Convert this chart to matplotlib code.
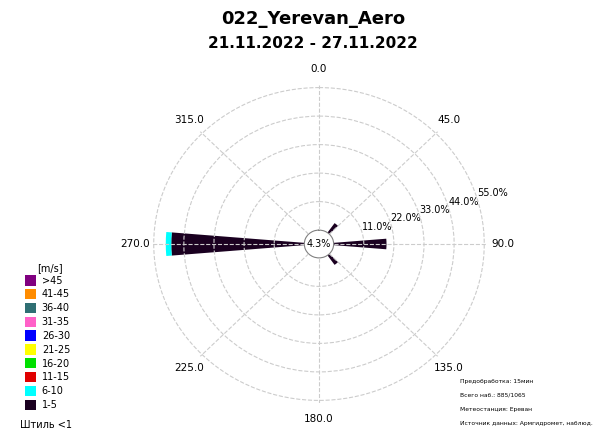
import numpy as np
import matplotlib
matplotlib.use("Agg")
import matplotlib.pyplot as plt
from matplotlib.patches import Patch

# データ
station = "022_Yerevan_Aero"
period = "21.11.2022 - 27.11.2022"
calm = 4.3  # 静穏 [%]
directions = [40, 90, 140, 270]  # 風向 [deg]
speed_1_5 = [4.5, 19.3, 4.5, 48.6]
speed_6_10 = [0.0, 0.0, 0.0, 2.0]
r_ticks = [11.0, 22.0, 33.0, 44.0, 55.0]
theta_ticks = [0, 45, 90, 135, 180, 225, 270, 315]

classes = [">45", "41-45", "36-40", "31-35", "26-30", "21-25", "16-20", "11-15", "6-10", "1-5"]
class_colors = ["#800080", "#FF8C00", "#2F6F73", "#FF60C8", "#0000FF",
                "#FFFF00", "#00E000", "#E00000", "#00FFFF", "#1A0020"]

info_lines = ["Предобработка: 15мин",
              "Всего наб.: 885/1065",
              "Метеостанция: Ереван",
              "Источник данных: Армгидромет, наблюд."]

fig = plt.figure(figsize=(6.03, 4.33), dpi=100)
ax = fig.add_axes([0.2504, 0.0693, 0.5572, 0.7344], projection="polar")
ax.set_aspect("auto")
ax.set_theta_zero_location("N")
ax.set_theta_direction(-1)
ax.set_rorigin(-5.36)
ax.set_ylim(0, 56)

# 棒（積み上げ）
theta = np.deg2rad(directions)
width = np.deg2rad(9.5)
ax.bar(theta, speed_1_5, width=width, bottom=0, color=class_colors[-1], linewidth=0)
ax.bar(theta, speed_6_10, width=width, bottom=speed_1_5, color=class_colors[-2], linewidth=0)

# グリッド
ax.set_axisbelow(False)
ax.grid(True, color="#cccccc", linestyle="--", linewidth=0.8)
ax.set_thetagrids(theta_ticks, labels=["%.1f" % t for t in theta_ticks], fontsize=7.5)
ax.set_rgrids(r_ticks, labels=["%.1f%%" % r for r in r_ticks], angle=73, fontsize=7)
ax.tick_params(axis="x", pad=1)
ax.spines["polar"].set_visible(False)
ax.spines["inner"].set_edgecolor("grey")
ax.spines["inner"].set_linewidth(0.8)
ax.text(0, -5.36, "%.1f%%" % calm, ha="center", va="center", fontsize=7)

# タイトル
fig.text(0.519, 0.955, station, ha="center", va="center", fontsize=13, fontweight="bold")
fig.text(0.519, 0.90, period, ha="center", va="center", fontsize=11, fontweight="bold")

# 凡例
handles = [Patch(facecolor=c, edgecolor="none") for c in class_colors]
fig.legend(handles, classes, loc="lower left", bbox_to_anchor=(0.033, 0.042),
           frameon=False, fontsize=7, borderpad=0, handlelength=1.15,
           handleheight=1.25, labelspacing=0.35, handletextpad=0.6)
fig.text(0.062, 0.381, "[m/s]", fontsize=7, va="center")
fig.text(0.033, 0.019, "Штиль <1", fontsize=7, va="center")

# 右下の注記
for i, line in enumerate(info_lines):
    fig.text(0.763, 0.12 - i * 0.033, line, fontsize=4.3, va="center")

fig.savefig("out.png", dpi=100)
